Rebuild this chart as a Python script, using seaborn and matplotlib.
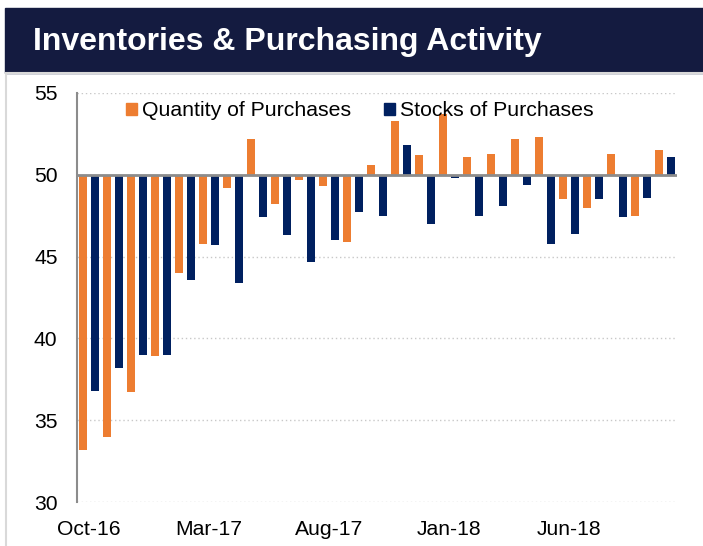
import matplotlib
matplotlib.use("Agg")
import matplotlib.pyplot as plt
from matplotlib.patches import Rectangle, Patch
import pandas as pd
import seaborn as sns

months = ["Oct-16", "Nov-16", "Dec-16", "Jan-17", "Feb-17", "Mar-17", "Apr-17",
          "May-17", "Jun-17", "Jul-17", "Aug-17", "Sep-17", "Oct-17", "Nov-17",
          "Dec-17", "Jan-18", "Feb-18", "Mar-18", "Apr-18", "May-18", "Jun-18",
          "Jul-18", "Aug-18", "Sep-18", "Oct-18"]
quantity = [33.2, 34.0, 36.7, 38.9, 44.0, 45.8, 49.2, 52.2, 48.2, 49.7, 49.3, 45.9, 50.6,
            53.3, 51.2, 53.7, 51.1, 51.3, 52.2, 52.3, 48.5, 48.0, 51.3, 47.5, 51.5]
stocks = [36.8, 38.2, 39.0, 39.0, 43.6, 45.7, 43.4, 47.4, 46.3, 44.7, 46.0, 47.7, 47.5,
          51.8, 47.0, 49.8, 47.5, 48.1, 49.4, 45.8, 46.4, 48.5, 47.4, 48.6, 51.1]
series = ["Quantity of Purchases", "Stocks of Purchases"]
colors = {"Quantity of Purchases": "#ED7D31", "Stocks of Purchases": "#002060"}
baseline = 50
tick_months = ["Oct-16", "Mar-17", "Aug-17", "Jan-18", "Jun-18"]

df = pd.DataFrame({
    "month": months * 2,
    "series": [series[0]] * len(months) + [series[1]] * len(months),
    "value": quantity + stocks,
})
df["dev"] = df["value"] - baseline

plt.rcParams["font.family"] = ["Liberation Sans", "DejaVu Sans"]

fig = plt.figure(figsize=(7.03, 5.46), dpi=100)
ax = fig.add_axes([77 / 703, 44 / 546, 600 / 703, 409 / 546])

# banner + frame
fig.patches.append(Rectangle((5 / 703, (546 - 73) / 546), 1, 65 / 546,
                             transform=fig.transFigure, color="#141b40", zorder=0))
fig.patches.append(Rectangle((5.5 / 703, -0.05), 1, (546 - 73) / 546 + 0.05,
                             transform=fig.transFigure, fill=False,
                             edgecolor="#d9d9d9", lw=1.5, zorder=0))
fig.text(33 / 703, (546 - 42) / 546, "Inventories & Purchasing Activity",
         color="white", fontsize=23, fontweight="bold", va="center", ha="left")

# bars hang from the 50 line
sns.barplot(data=df, x="month", y="dev", hue="series", palette=colors,
            order=months, hue_order=series, saturation=1, width=0.96, gap=0.28,
            bottom=baseline, legend=False, ax=ax, zorder=3)

ax.set_ylim(30, 55)
ax.set_xlim(-0.5, len(months) - 0.5)
ax.set_yticks([30, 35, 40, 45, 50, 55])
ax.set_xticks([months.index(m) for m in tick_months])
ax.set_xticklabels(tick_months)
ax.set_xlabel("")
ax.set_ylabel("")
ax.tick_params(axis="both", length=0, labelsize=15.2, colors="black")
ax.tick_params(axis="y", pad=14)
ax.tick_params(axis="x", pad=13)

ax.yaxis.grid(True, color="#c8c8c8", linestyle=(0, (1, 2)), linewidth=1, zorder=0)
ax.set_axisbelow(True)
ax.axhline(baseline, color="#8c8c8c", lw=2, zorder=4)
for s in ["top", "right", "bottom"]:
    ax.spines[s].set_visible(False)
ax.spines["left"].set_color("#8c8c8c")
ax.spines["left"].set_linewidth(1.5)

handles = [Patch(color=colors[s], label=s) for s in series]
ax.legend(handles=handles, loc="center left", bbox_to_anchor=(0.082, 0.956),
          ncol=2, frameon=False, fontsize=15.3, borderpad=0, borderaxespad=0,
          handlelength=0.5, handleheight=0.5, handletextpad=0.25,
          columnspacing=1.55)

fig.savefig("out.png", dpi=100)
